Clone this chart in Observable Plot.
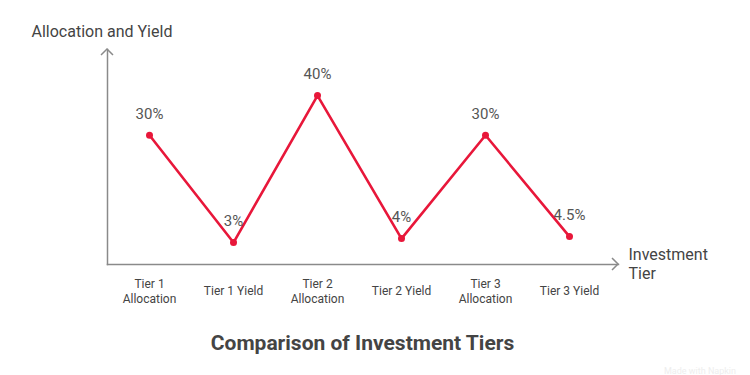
<!DOCTYPE html>
<html>
<head>
<meta charset="utf-8">
<script src="https://cdn.jsdelivr.net/npm/d3@7"></script>
<script src="https://cdn.jsdelivr.net/npm/@observablehq/plot@0.6"></script>
<style>
  html, body { margin: 0; padding: 0; background: #fff; }
  #wrap { position: relative; width: 750px; height: 375px; font-family: Roboto, sans-serif; }
  #title { position: absolute; left: 0; top: 331px; width: 725px; text-align: center;
           font: bold 21px Roboto, sans-serif; color: #444; line-height: 24px; }
  #mark { position: absolute; right: 14px; top: 366px; font: 9px Roboto, sans-serif; color: #eee; }
</style>
</head>
<body>
<div id="wrap">
  <div id="chart"></div>
  <div id="title">Comparison of Investment Tiers</div>
  <div id="mark">Made with Napkin</div>
</div>
<script>
const categories = ["Tier 1 Allocation", "Tier 1 Yield", "Tier 2 Allocation", "Tier 2 Yield", "Tier 3 Allocation", "Tier 3 Yield"];
const tickLabels = ["Tier 1\nAllocation", "Tier 1 Yield", "Tier 2\nAllocation", "Tier 2 Yield", "Tier 3\nAllocation", "Tier 3 Yield"];
const values = [30, 3, 40, 4, 30, 4.5];
const yAxisLabel = "Allocation and Yield";
const xAxisLabel = "Investment\nTier";

const data = categories.map((c, i) => ({ cat: c, value: values[i], tick: tickLabels[i] }));
const red = "#e8173a";
const axisGray = "#8a8a8a";

const chart = Plot.plot({
  width: 750,
  height: 318,
  marginLeft: 107,
  marginRight: 132,
  marginTop: 49,
  marginBottom: 54,
  style: { fontFamily: "Roboto, sans-serif", background: "white", overflow: "visible" },
  x: { type: "point", domain: categories, padding: 0.53, align: 0.46, axis: null },
  y: { domain: [-2.53, 51.6], axis: null },
  marks: [
    Plot.frame({ anchor: "left", stroke: axisGray, strokeWidth: 1.5 }),
    Plot.frame({ anchor: "bottom", stroke: axisGray, strokeWidth: 1.5 }),
    Plot.line(data, { x: "cat", y: "value", stroke: red, strokeWidth: 2.6 }),
    Plot.dot(data, { x: "cat", y: "value", r: 3.5, fill: red }),
    Plot.text(data, { x: "cat", y: "value", text: d => d.value + "%", dy: -21, fontSize: 15, fill: "#555" }),
    Plot.text(data, { x: "cat", text: "tick", frameAnchor: "bottom", dy: 26, lineAnchor: "middle", lineHeight: 1.25, fontSize: 12, fill: "#444" }),
    Plot.text([yAxisLabel], { text: d => d, frameAnchor: "top-left", dx: -76, dy: -24, textAnchor: "start", fontSize: 16, fill: "#444" }),
    Plot.text([xAxisLabel], { text: d => d, frameAnchor: "bottom-right", dx: 10, dy: -1, textAnchor: "start", lineAnchor: "middle", lineHeight: 1.15, fontSize: 16, fill: "#444" })
  ]
});

// arrowheads on the axes (decoration)
const svg = d3.select(chart);
const fLeft = 107, fRight = 750 - 132, fTop = 49, fBottom = 318 - 54;
svg.append("path").attr("d", `M${fLeft - 6},${fTop + 6}L${fLeft},${fTop}L${fLeft + 6},${fTop + 6}`)
  .attr("fill", "none").attr("stroke", axisGray).attr("stroke-width", 1.5);
svg.append("path").attr("d", `M${fRight - 6},${fBottom - 6}L${fRight},${fBottom}L${fRight - 6},${fBottom + 6}`)
  .attr("fill", "none").attr("stroke", axisGray).attr("stroke-width", 1.5);

document.getElementById("chart").appendChild(chart);
</script>
</body>
</html>
